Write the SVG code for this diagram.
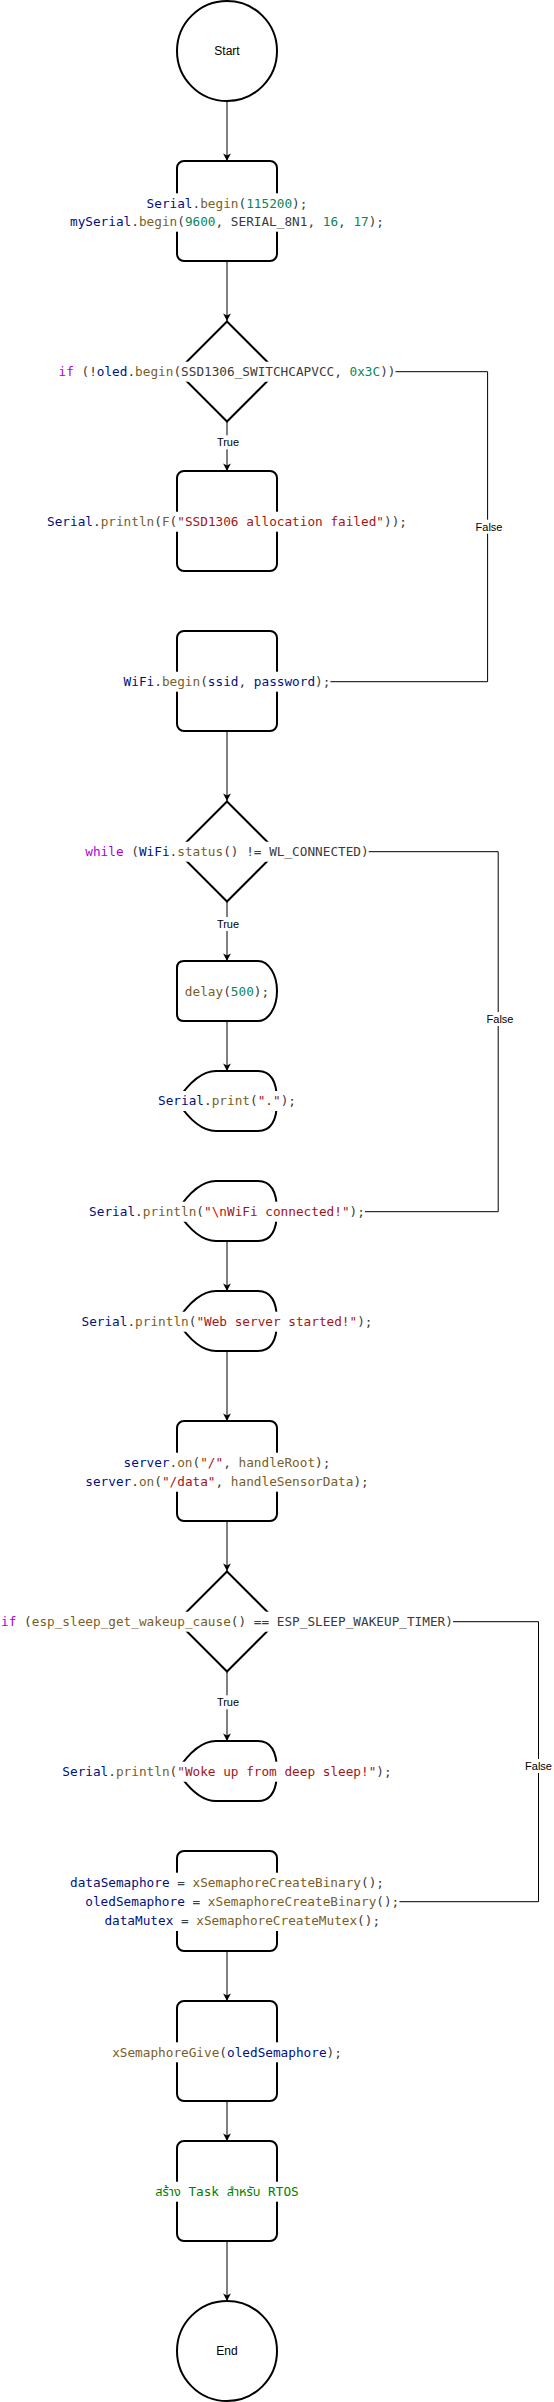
<svg xmlns="http://www.w3.org/2000/svg" width="554" height="2402" viewBox="0 0 554 2402">
<style>
.shape{fill:#fff;stroke:#000;stroke-width:2}
.edge{fill:none;stroke:#000;stroke-width:1}
.bg{fill:#fff}
.lbl{font-family:'Liberation Sans',Arial,sans-serif;font-size:12px;fill:#000;text-anchor:middle}
.elbl{font-family:'Liberation Sans',Arial,sans-serif;font-size:11px;fill:#000;text-anchor:middle}
.code{font-family:'DejaVu Sans Mono','Noto Sans Thai','Noto Sans',monospace;font-size:12.72px;fill:#3b3b3b;text-anchor:middle;white-space:pre}
.st{text-anchor:start}
.v{fill:#001080}.f{fill:#795e26}.n{fill:#098658}.s{fill:#a31515}.k{fill:#af00db}.e{fill:#ee0000}.c{fill:#008000}
</style>
<defs>
<marker id="arr" markerUnits="userSpaceOnUse" markerWidth="10" markerHeight="10" viewBox="-8 -5 10 10" refX="0" refY="0" orient="auto">
<path d="M0,0 L-7.5,-3.9 L-5.6,0 L-7.5,3.9 Z" fill="#000"/>
</marker>
</defs>
<rect width="554" height="2402" fill="#fff"/>

<g id="connectors">
<path class="edge" d="M227,101 V161" marker-end="url(#arr)"/>
<path class="edge" d="M227,261 V321" marker-end="url(#arr)"/>
<path class="edge" d="M227,421.5 V471" marker-end="url(#arr)"/>
<path class="edge" d="M277,371.7 H487.6 V681.7 H277" marker-end="url(#arr)"/>
<path class="edge" d="M227,731 V801" marker-end="url(#arr)"/>
<path class="edge" d="M227,901 V961" marker-end="url(#arr)"/>
<path class="edge" d="M277,851.7 H498.2 V1211.7 H277" marker-end="url(#arr)"/>
<path class="edge" d="M227,1021 V1071" marker-end="url(#arr)"/>
<path class="edge" d="M227,1241 V1291" marker-end="url(#arr)"/>
<path class="edge" d="M227,1351 V1421" marker-end="url(#arr)"/>
<path class="edge" d="M227,1521 V1571" marker-end="url(#arr)"/>
<path class="edge" d="M227,1671 V1741" marker-end="url(#arr)"/>
<path class="edge" d="M277,1621.7 H538.5 V1901.7 H277" marker-end="url(#arr)"/>
<path class="edge" d="M227,1951 V2001" marker-end="url(#arr)"/>
<path class="edge" d="M227,2101 V2141" marker-end="url(#arr)"/>
<path class="edge" d="M227,2241 V2301" marker-end="url(#arr)"/>
<rect class="bg" x="216" y="435.3" width="24" height="14"/>
<text class="elbl" x="228" y="446.3">True</text>
<rect class="bg" x="216" y="917" width="24" height="14"/>
<text class="elbl" x="228" y="928">True</text>
<rect class="bg" x="216" y="1695.3" width="24" height="14"/>
<text class="elbl" x="228" y="1706.3">True</text>
<rect class="bg" x="475" y="519.7" width="28" height="14"/>
<text class="elbl" x="489" y="530.7">False</text>
<rect class="bg" x="486" y="1012" width="28" height="14"/>
<text class="elbl" x="500" y="1023">False</text>
<rect class="bg" x="524.5" y="1759" width="28" height="14"/>
<text class="elbl" x="538.5" y="1770">False</text>
</g>

<g id="start">
<circle class="shape" cx="227" cy="51" r="50"/>
<text class="lbl" x="227" y="55.3">Start</text>
</g>

<g id="serial-begin">
<rect class="shape" x="177" y="161" width="100" height="100" rx="7"/>
<rect class="bg" x="70" y="193.3" width="314" height="38.4"/>
<text class="code" x="227" y="207.7"><tspan class="v">Serial</tspan>.<tspan class="f">begin</tspan>(<tspan class="n">115200</tspan>);</text>
<text class="code" x="227" y="226.1"><tspan class="v">mySerial</tspan>.<tspan class="f">begin</tspan>(<tspan class="n">9600</tspan>, SERIAL_8N1, <tspan class="n">16</tspan>, <tspan class="n">17</tspan>);</text>
</g>

<g id="if-oled">
<polygon class="shape" points="227,321.5 277,371.5 227,421.5 177,371.5"/>
<rect class="bg" x="58.5" y="361.7" width="337" height="20"/>
<text class="code" x="227" y="376.1"><tspan class="k">if</tspan> (!<tspan class="v">oled</tspan>.<tspan class="f">begin</tspan>(SSD1306_SWITCHCAPVCC, <tspan class="n">0x3C</tspan>))</text>
</g>

<g id="oled-failed">
<rect class="shape" x="177" y="471" width="100" height="100" rx="7"/>
<rect class="bg" x="47" y="511.7" width="360" height="20"/>
<text class="code" x="227" y="526.1"><tspan class="v">Serial</tspan>.<tspan class="f">println</tspan>(<tspan class="f">F</tspan>(<tspan class="s">"SSD1306 allocation failed"</tspan>));</text>
</g>

<g id="wifi-begin">
<rect class="shape" x="177" y="631" width="100" height="100" rx="7"/>
<rect class="bg" x="123.6" y="671.7" width="206.8" height="20"/>
<text class="code" x="227" y="686.1"><tspan class="v">WiFi</tspan>.<tspan class="f">begin</tspan>(<tspan class="v">ssid</tspan>, <tspan class="v">password</tspan>);</text>
</g>

<g id="while-wifi">
<polygon class="shape" points="227,801.5 277,851.5 227,901.5 177,851.5"/>
<rect class="bg" x="85.3" y="841.7" width="283.4" height="20"/>
<text class="code" x="227" y="856.1"><tspan class="k">while</tspan> (<tspan class="v">WiFi</tspan>.<tspan class="f">status</tspan>() != WL_CONNECTED)</text>
</g>

<g id="delay">
<path class="shape" d="M184,961 L258,961 A19,30 0 0 1 258,1021 L184,1021 Q177,1021 177,1014 L177,968 Q177,961 184,961 Z"/>
<text class="code" x="227" y="996.1"><tspan class="f">delay</tspan>(<tspan class="n">500</tspan>);</text>
</g>

<g id="serial-print-dot">
<path class="shape" d="M216,1071 L258,1071 Q277,1071 277,1101 Q277,1131 258,1131 L216,1131 Q196.5,1131 177,1101 Q196.5,1071 216,1071 Z"/>
<rect class="bg" x="158" y="1091" width="138" height="20"/>
<text class="code" x="227" y="1105.4"><tspan class="v">Serial</tspan>.<tspan class="f">print</tspan>(<tspan class="s">"."</tspan>);</text>
</g>

<g id="wifi-connected">
<path class="shape" d="M216,1181 L258,1181 Q277,1181 277,1211 Q277,1241 258,1241 L216,1241 Q196.5,1241 177,1211 Q196.5,1181 216,1181 Z"/>
<rect class="bg" x="89.1" y="1201.7" width="275.8" height="20"/>
<text class="code" x="227" y="1216.1"><tspan class="v">Serial</tspan>.<tspan class="f">println</tspan>(<tspan class="s">"</tspan><tspan class="e">\n</tspan><tspan class="s">WiFi connected!"</tspan>);</text>
</g>

<g id="web-started">
<path class="shape" d="M216,1291 L258,1291 Q277,1291 277,1321 Q277,1351 258,1351 L216,1351 Q196.5,1351 177,1321 Q196.5,1291 216,1291 Z"/>
<rect class="bg" x="81.5" y="1311.7" width="291" height="20"/>
<text class="code" x="227" y="1326.1"><tspan class="v">Serial</tspan>.<tspan class="f">println</tspan>(<tspan class="s">"Web server started!"</tspan>);</text>
</g>

<g id="server-on">
<rect class="shape" x="177" y="1421" width="100" height="100" rx="7"/>
<rect class="bg" x="85.3" y="1452.7" width="283.4" height="39"/>
<text class="code" x="227" y="1467.1"><tspan class="v">server</tspan>.<tspan class="f">on</tspan>(<tspan class="s">"/"</tspan>, <tspan class="f">handleRoot</tspan>);</text>
<text class="code" x="227" y="1486.1"><tspan class="v">server</tspan>.<tspan class="f">on</tspan>(<tspan class="s">"/data"</tspan>, <tspan class="f">handleSensorData</tspan>);</text>
</g>

<g id="if-wakeup">
<polygon class="shape" points="227,1571.5 277,1621.5 227,1671.5 177,1621.5"/>
<rect class="bg" x="1" y="1611.7" width="452" height="20"/>
<text class="code" x="227" y="1626.1"><tspan class="k">if</tspan> (<tspan class="f">esp_sleep_get_wakeup_cause</tspan>() == ESP_SLEEP_WAKEUP_TIMER)</text>
</g>

<g id="woke-up">
<path class="shape" d="M216,1741 L258,1741 Q277,1741 277,1771 Q277,1801 258,1801 L216,1801 Q196.5,1801 177,1771 Q196.5,1741 216,1741 Z"/>
<rect class="bg" x="62.3" y="1761.7" width="329.4" height="20"/>
<text class="code" x="227" y="1776.1"><tspan class="v">Serial</tspan>.<tspan class="f">println</tspan>(<tspan class="s">"Woke up from deep sleep!"</tspan>);</text>
</g>

<g id="semaphores">
<rect class="shape" x="177" y="1851" width="100" height="100" rx="7"/>
<rect class="bg" x="70" y="1872.7" width="329.4" height="58.3"/>
<text class="code st" x="70" y="1887.1"><tspan class="v">dataSemaphore</tspan> = <tspan class="f">xSemaphoreCreateBinary</tspan>();</text>
<text class="code st" x="85.3" y="1906.1"><tspan class="v">oledSemaphore</tspan> = <tspan class="f">xSemaphoreCreateBinary</tspan>();</text>
<text class="code st" x="104.4" y="1925.4"><tspan class="v">dataMutex</tspan> = <tspan class="f">xSemaphoreCreateMutex</tspan>();</text>
</g>

<g id="semaphore-give">
<rect class="shape" x="177" y="2001" width="100" height="100" rx="7"/>
<rect class="bg" x="112.1" y="2042.3" width="229.8" height="20"/>
<text class="code" x="227" y="2056.7"><tspan class="f">xSemaphoreGive</tspan>(<tspan class="v">oledSemaphore</tspan>);</text>
</g>

<g id="create-tasks">
<rect class="shape" x="177" y="2141" width="100" height="100" rx="7"/>
<rect class="bg" x="151" y="2181.7" width="152" height="20"/>
<text class="code c" x="227" y="2196.1">สร้าง Task สำหรับ RTOS</text>
</g>

<g id="end">
<circle class="shape" cx="227" cy="2351" r="50"/>
<text class="lbl" x="227" y="2355.3">End</text>
</g>
</svg>
